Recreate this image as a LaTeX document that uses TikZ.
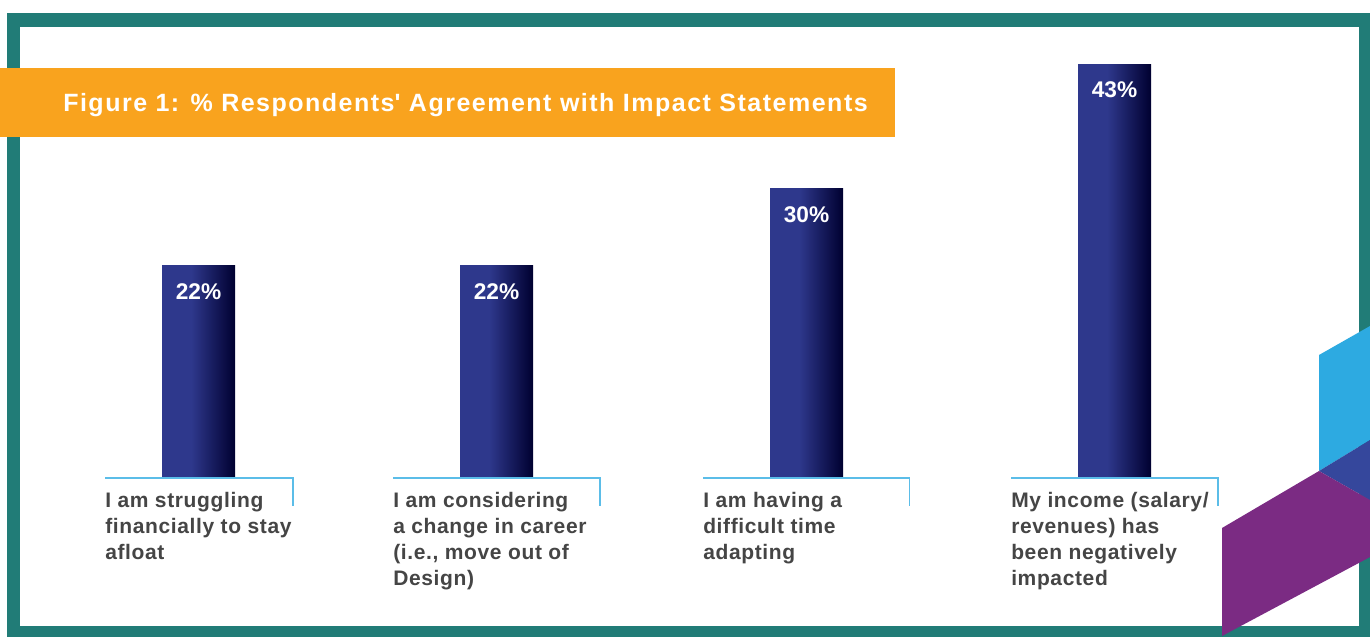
\documentclass[tikz,border=0pt]{standalone}
\usepackage{fontspec}
\setmainfont{Liberation Sans}
\newfontfamily\titlefont[LetterSpace=6]{Liberation Sans}
\newfontfamily\stmtfont[LetterSpace=3]{Liberation Sans}
\usetikzlibrary{positioning}

\definecolor{frameteal}{HTML}{217C77}
\definecolor{banner}{HTML}{F9A31E}
\definecolor{barL}{HTML}{2E388C}
\definecolor{barR}{HTML}{000030}
\definecolor{axisblue}{HTML}{5BBDE8}
\definecolor{labelgray}{HTML}{454545}
\definecolor{decoblue}{HTML}{2DAAE1}
\definecolor{decodark}{HTML}{35479C}
\definecolor{decopurple}{HTML}{7B2B83}

\pgfdeclarehorizontalshading{barshade}{100bp}{color(0bp)=(barL); color(25bp)=(barL); color(45bp)=(barL); color(75bp)=(barR); color(100bp)=(barR)}

\begin{document}
\begin{tikzpicture}[x=0.75pt,y=-0.75pt]
	\tikzstyle{bar}=[shading=barshade, minimum width=73*0.75pt, inner sep=0pt, anchor=south]
	\tikzstyle{pct}=[text=white, font=\fontsize{17}{20}\selectfont\bfseries, anchor=center]
	\tikzstyle{stmt}=[text=labelgray, font=\stmtfont\fontsize{15.75}{19.5}\selectfont\bfseries, align=left, anchor=north west, inner sep=0pt]
	\tikzstyle{axis}=[draw=axisblue, line width=1.2pt]
	
	\useasboundingbox (0,0) rectangle (1370,636);
	
	%% frame and banner
	\fill [white] (0,0) rectangle (1370,636);
	\draw [frameteal, line width = 10pt]  (13.5,20) rectangle (1366,633);
	\fill [banner] (0,68) rectangle (895,137);
	\node [text=white, font=\titlefont\fontsize{18.75}{22}\selectfont\bfseries, anchor=base west, inner sep=0pt] (title) at (63,111) {Figure 1: \% Respondents\textquotesingle{} Agreement with Impact Statements};
	
	%% bars
	\node [bar, minimum height=211*0.75pt] (b1) at (198.5,477) {};
	\node [bar, minimum height=211*0.75pt] (b2) at (496.5,477) {};
	\node [bar, minimum height=288*0.75pt] (b3) at (806.5,477) {};
	\node [bar, minimum height=412*0.75pt] (b4) at (1114.5,477) {};
	\node [pct] (p1) at ([yshift=-26*0.75pt]b1.north) {22\%};
	\node [pct] (p2) at ([yshift=-26*0.75pt]b2.north) {22\%};
	\node [pct] (p3) at ([yshift=-26*0.75pt]b3.north) {30\%};
	\node [pct] (p4) at ([yshift=-25*0.75pt]b4.north) {43\%};
	
	%% axis brackets
	\coordinate (a1) at (105,478);   \coordinate (e1) at (293,506);
	\coordinate (a2) at (393,478);   \coordinate (e2) at (600,506);
	\coordinate (a3) at (703,478);   \coordinate (e3) at (909.5,506);
	\coordinate (a4) at (1011,478);  \coordinate (e4) at (1218,506);
	\draw [axis] (a1) -| (e1);
	\draw [axis] (a2) -| (e2);
	\draw [axis] (a3) -| (e3);
	\draw [axis] (a4) -| (e4);
	
	%% statements
	\node [stmt] (s1) at (105,492) {I am struggling\\financially to stay\\afloat};
	\node [stmt] (s2) at (393,492) {I am considering\\a change in career\\(i.e., move out of\\Design)};
	\node [stmt] (s3) at (703,492) {I am having a\\difficult time\\adapting};
	\node [stmt] (s4) at (1011,492) {My income (salary/\\revenues) has\\been negatively\\impacted};
	
	%% corner decoration
	\fill [decoblue] (1319,355) -- (1370,326) -- (1370,440) -- (1319,471) -- cycle;
	\fill [decodark] (1319,471) -- (1370,440) -- (1370,500) -- cycle;
	\fill [decopurple] (1222,528) -- (1319,471) -- (1370,500) -- (1370,557) -- (1222,636) -- cycle;

\end{tikzpicture}
\end{document}
